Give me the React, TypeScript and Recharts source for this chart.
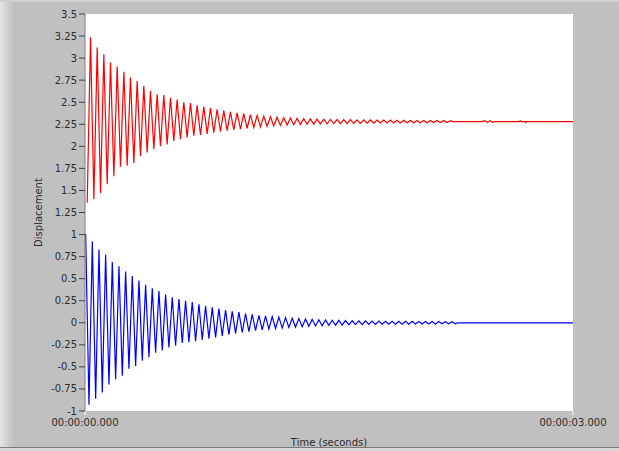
import React from "react";
import { LineChart, Line, XAxis, YAxis, CartesianGrid } from "recharts";

// ---- data ----
const xTicks = [0, 3];
const xTickLabels = ["00:00:00.000", "00:00:03.000"];
const yTicks = [-1, -0.75, -0.5, -0.25, 0, 0.25, 0.5, 0.75, 1, 1.25, 1.5, 1.75, 2, 2.25, 2.5, 2.75, 3, 3.25, 3.5];

// oscillation timing (seconds) read from peak spacing
const halfPeriod = 0.02048;
const blueFirstPeak = 0.004;
const redFirstTrough = 0.0135;

// blue: peaks and troughs of each cycle
const bluePeaks = [
  1.01, 0.92, 0.83, 0.77, 0.69, 0.64, 0.58, 0.53, 0.48, 0.43, 0.39, 0.36, 0.32, 0.29, 0.27, 0.25, 0.235,
  0.21, 0.19, 0.175, 0.16, 0.145, 0.13, 0.12, 0.105, 0.095, 0.085, 0.078, 0.07, 0.064, 0.058, 0.052, 0.047,
  0.043, 0.039, 0.035, 0.032, 0.029, 0.027, 0.025, 0.023, 0.022, 0.021, 0.02, 0.019, 0.018, 0.018, 0.017,
  0.016, 0.016, 0.015, 0.015, 0.014, 0.014, 0.013, 0.012,
];
const blueTroughs = [
  -0.93, -0.86, -0.79, -0.7, -0.64, -0.6, -0.52, -0.49, -0.43, -0.39, -0.34, -0.315, -0.28, -0.26, -0.23, -0.22, -0.21,
  -0.195, -0.18, -0.165, -0.15, -0.135, -0.12, -0.11, -0.1, -0.09, -0.08, -0.072, -0.065, -0.06, -0.054, -0.048,
  -0.044, -0.04, -0.036, -0.033, -0.03, -0.027, -0.025, -0.023, -0.021, -0.02, -0.019, -0.018, -0.017, -0.016,
  -0.016, -0.015, -0.015, -0.014, -0.014, -0.013, -0.013, -0.012, -0.012, -0.011,
];
const blueTailTimes = [2.29, 3];
const blueTailValues = [0, 0];

// red: troughs and peaks of each cycle
const redTroughs = [
  1.36, 1.4, 1.47, 1.57, 1.66, 1.77, 1.78, 1.81, 1.89, 1.93, 1.97, 2.0, 2.02, 2.06, 2.08, 2.1, 2.12,
  2.13, 2.142, 2.155, 2.167, 2.178, 2.187, 2.196, 2.205, 2.213, 2.221, 2.227, 2.232, 2.237, 2.241, 2.245,
  2.248, 2.251, 2.252, 2.254, 2.256, 2.257, 2.258, 2.259, 2.26, 2.261, 2.262, 2.263, 2.264, 2.264, 2.265,
  2.266, 2.267, 2.267, 2.268, 2.268, 2.269, 2.269, 2.27,
];
const redPeaks = [
  3.235, 3.12, 3.045, 2.95, 2.905, 2.845, 2.78, 2.74, 2.685, 2.63, 2.59, 2.58, 2.55, 2.53, 2.5, 2.49, 2.465,
  2.45, 2.435, 2.42, 2.405, 2.39, 2.38, 2.37, 2.36, 2.35, 2.342, 2.336, 2.33, 2.325, 2.321, 2.317, 2.314,
  2.311, 2.309, 2.307, 2.305, 2.304, 2.303, 2.302, 2.301, 2.3, 2.299, 2.298, 2.297, 2.297, 2.296, 2.295,
  2.294, 2.294, 2.293, 2.293, 2.292, 2.292, 2.291,
];
const redTailTimes = [2.26, 2.44, 2.455, 2.475, 2.49, 2.505, 2.52, 2.67, 2.675, 2.68, 2.705, 2.71, 2.715, 3];
const redTailValues = [2.28, 2.28, 2.29, 2.272, 2.29, 2.272, 2.28, 2.28, 2.29, 2.28, 2.28, 2.27, 2.28, 2.28];

type Pt = { t: number; v: number };

function buildSeries(start: number, first: number[], second: number[], tailT: number[], tailV: number[]): Pt[] {
  const pts: Pt[] = [];
  for (let i = 0; i < first.length; i++) {
    const t0 = start + 2 * halfPeriod * i;
    pts.push({ t: t0, v: first[i] });
    if (i < second.length) pts.push({ t: t0 + halfPeriod, v: second[i] });
  }
  tailT.forEach((t, i) => pts.push({ t, v: tailV[i] }));
  return pts;
}

const blueData = buildSeries(blueFirstPeak, bluePeaks, blueTroughs, blueTailTimes, blueTailValues);
const redData = buildSeries(redFirstTrough, redTroughs, redPeaks, redTailTimes, redTailValues);

const FONT = "'DejaVu Sans', Tahoma, sans-serif";
const TEXT = "#2e2e2e";

const YLabel = (props: any) => {
  const vb = props.viewBox || { x: 0, y: 0, width: 0, height: 0 };
  const cx = vb.x + 38;
  const cy = vb.y + vb.height / 2;
  return (
    <text
      x={cx}
      y={cy}
      transform={`rotate(-90 ${cx} ${cy})`}
      textAnchor="middle"
      dominantBaseline="central"
      fontFamily={FONT}
      fontSize={10}
      fill={TEXT}
    >
      Displacement
    </text>
  );
};

export default function App() {
  return (
    <div
      style={{
        position: "absolute",
        left: 0,
        top: 0,
        width: 619,
        height: 451,
        background: "#c0c0c0",
        overflow: "hidden",
      }}
    >
      <div
        style={{
          position: "absolute",
          left: 0,
          top: 0,
          width: 14,
          height: 448,
          background: "linear-gradient(to right, #e4e4e4 0px, #d6d6d6 5px, #c0c0c0 14px)",
        }}
      />
      <div style={{ position: "absolute", left: 0, top: 0, width: 619, height: 2, background: "#d0d0d0" }} />
      <div style={{ position: "absolute", left: 0, top: 447, width: 619, height: 1, background: "#7a7a7a" }} />
      <div style={{ position: "absolute", left: 0, top: 448, width: 619, height: 3, background: "#d8d8d8" }} />
      <div style={{ position: "absolute", left: 0, top: 0 }}>
        <LineChart width={619} height={451} margin={{ top: 14, right: 46, bottom: 0, left: 0 }}>
          <CartesianGrid horizontal={false} vertical={false} fill="#ffffff" />
          <XAxis
            type="number"
            dataKey="t"
            domain={[0, 3]}
            ticks={xTicks}
            interval={0}
            height={40}
            tickSize={4}
            tickMargin={4}
            axisLine={false}
            tickLine={{ stroke: "#ffffff" }}
            tickFormatter={(v: number) => xTickLabels[xTicks.indexOf(v)] ?? ""}
            tick={{ fontFamily: FONT, fontSize: 10, fill: TEXT }}
            label={{
              value: "Time (seconds)",
              position: "insideBottom",
              offset: 5,
              style: { fontFamily: FONT, fontSize: 10, fill: TEXT },
            }}
          />
          <YAxis
            type="number"
            domain={[-1, 3.5]}
            ticks={yTicks}
            interval={0}
            width={85}
            tickSize={6}
            tickMargin={2}
            axisLine={{ stroke: "#7f7f7f" }}
            tickLine={{ stroke: "#404040" }}
            tick={{ fontFamily: FONT, fontSize: 10, fill: TEXT }}
            label={<YLabel />}
          />
          <Line
            data={redData}
            dataKey="v"
            type="linear"
            stroke="#ff0000"
            strokeWidth={1.2}
            dot={false}
            isAnimationActive={false}
          />
          <Line
            data={blueData}
            dataKey="v"
            type="linear"
            stroke="#0000ff"
            strokeWidth={1.2}
            dot={false}
            isAnimationActive={false}
          />
        </LineChart>
      </div>
    </div>
  );
}
